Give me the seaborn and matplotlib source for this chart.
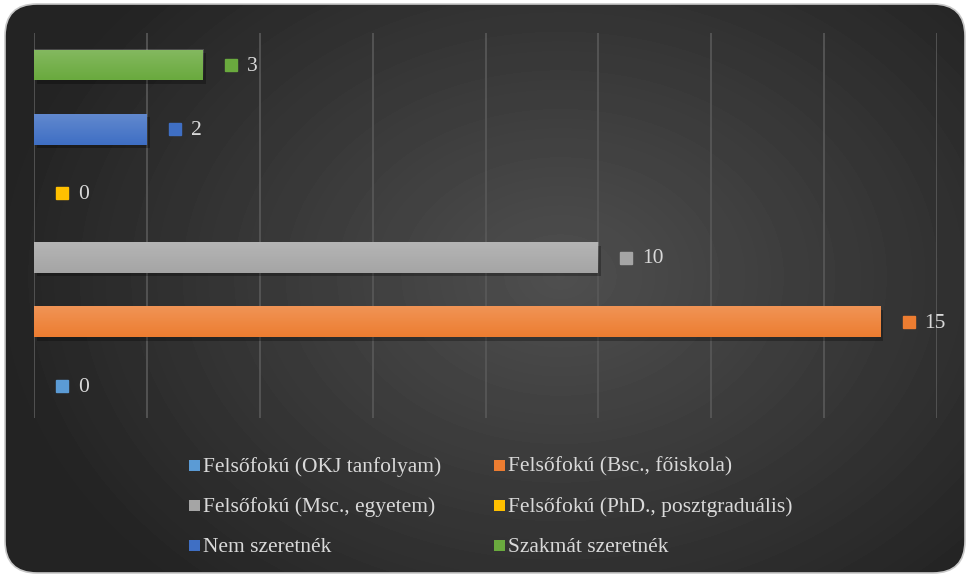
#horizontal bar chart of further study plans, dark office-like theme

import numpy as np
import matplotlib.pyplot as plt
import matplotlib.patheffects as pe
from matplotlib.patches import FancyBboxPatch, Rectangle
from matplotlib.transforms import offset_copy
import seaborn as sns

#categories, top to bottom as drawn
categories = ["Szakmát szeretnék", "Nem szeretnék", "Felsőfokú (PhD., posztgraduális)",
              "Felsőfokú (Msc., egyetem)", "Felsőfokú (Bsc., főiskola)", "Felsőfokú (OKJ tanfolyam)"]
values = [3, 2, 0, 10, 15, 0]
colors = ["#6AAA3E", "#3F6FC4", "#FFC000", "#A5A5A5", "#ED7D31", "#5B9BD5"]

#legend entries as read row by row in the picture
legend_rows = [["Felsőfokú (OKJ tanfolyam)", "Felsőfokú (Bsc., főiskola)"],
               ["Felsőfokú (Msc., egyetem)", "Felsőfokú (PhD., posztgraduális)"],
               ["Nem szeretnék", "Szakmát szeretnék"]]

x_ticks = np.arange(0, 17, 2)

sns.set_theme(style="white")
plt.rcParams['font.family'] = ['Liberation Serif', 'DejaVu Serif']

fig = plt.figure(figsize=(9.66, 5.77), dpi=100)
W, H = 966, 577

#background: rounded panel with radial gradient, pixel coordinates
bg = fig.add_axes([0, 0, 1, 1], zorder=-5)
bg.set_xlim(0, W)
bg.set_ylim(0, H)
bg.axis("off")
yy, xx = np.mgrid[0:H, 0:W]
dist = np.sqrt(((xx - 560) / 560.0) ** 2 + ((yy - 300) / 420.0) ** 2)
shade = np.clip(0.31 - 0.17 * dist, 0.14, 0.31)
img = bg.imshow(shade, cmap="gray", vmin=0, vmax=1, extent=(0, W, 0, H),
                origin="lower", aspect="auto", interpolation="bilinear")
panel = FancyBboxPatch((5, 4), 960, 569, boxstyle="round,pad=0,rounding_size=32",
                       facecolor="none", edgecolor="#C8C8C8", linewidth=1.2)
bg.add_patch(panel)
img.set_clip_path(panel)

#bar axes
ax = fig.add_axes([34 / W, 1 - 418 / H, (937 - 34) / W, (418 - 33) / H])
ax.patch.set_alpha(0)

sns.barplot(x=values, y=categories, hue=categories, palette=colors, orient="h",
            width=0.48, legend=False, ax=ax, saturation=1, linewidth=0, zorder=3)

#soft shadow and top highlight on bars
for p in ax.patches:
    x0, y0, w, h = p.get_x(), p.get_y(), p.get_width(), p.get_height()
    if w <= 0:
        p.set_visible(False)
        continue
    p.set_path_effects([pe.SimplePatchShadow(offset=(2, -2.5), alpha=0.28, shadow_rgbFace="black"), pe.Normal()])
    grad = np.zeros((50, 2, 4))
    grad[..., :3] = 1
    grad[..., 3] = np.linspace(0.18, 0.0, 50)[:, None]
    ax.imshow(grad, extent=(x0, x0 + w, y0 + h, y0), aspect="auto", zorder=4, interpolation="bilinear")

ax.set_xlim(0, 16)
ax.set_ylim(5.5, -0.5)

#gridlines
ax.set_xticks(x_ticks)
ax.grid(axis="x", color="#595959", linewidth=1.2, zorder=0)
ax.tick_params(left=False, bottom=False, labelleft=False, labelbottom=False)
for s in ax.spines.values():
    s.set_visible(False)
ax.set_xlabel("")
ax.set_ylabel("")

#data labels: small square plus value
sq_tr = offset_copy(ax.transData, fig=fig, x=28 * 0.72, y=0, units="points")
tx_tr = offset_copy(ax.transData, fig=fig, x=44 * 0.72, y=0, units="points")
for i, (v, c) in enumerate(zip(values, colors)):
    ax.plot([v], [i], marker="s", markersize=8.3, color=c, transform=sq_tr, clip_on=False, zorder=5)
    ax.text(v, i + 0.02, str(v), transform=tx_tr, color="#D9D9D9", fontsize=15.5, va="center", ha="left", zorder=5)

#legend drawn by hand so rows sit evenly
color_of = dict(zip(categories, colors))
col_x = [189, 494]
row_y = [467, 507, 547]
for r, row in enumerate(legend_rows):
    for c, name in enumerate(row):
        yc = H - row_y[r]
        bg.add_patch(Rectangle((col_x[c], yc - 4), 11, 11, facecolor=color_of[name], edgecolor="none"))
        bg.text(col_x[c] + 14, yc, name, color="#D9D9D9", fontsize=15.5, va="center", ha="left")

fig.savefig("out.png", dpi=100, facecolor="white")
